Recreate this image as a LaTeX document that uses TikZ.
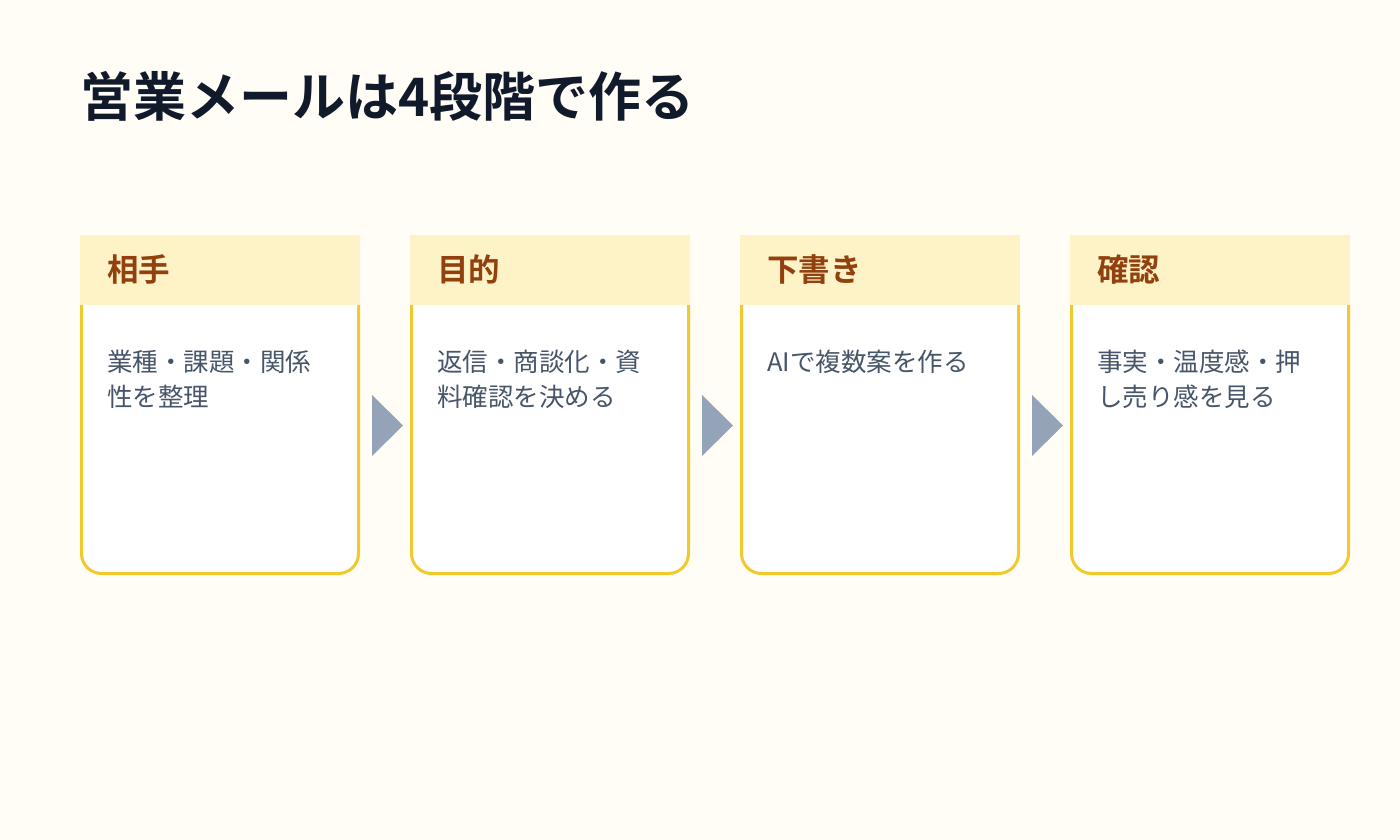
\documentclass[tikz,border=0pt]{standalone}
\usepackage{fontspec}
\setmainfont{Noto Sans CJK JP}[BoldFont={Noto Sans CJK JP Bold}]
\definecolor{bg}{HTML}{FFFDF6}
\definecolor{hdrfill}{HTML}{FEF3C7}
\definecolor{cardborder}{HTML}{F2C92C}
\definecolor{titlecol}{HTML}{111A2B}
\definecolor{hdrtext}{HTML}{92400E}
\definecolor{bodytext}{HTML}{475569}
\definecolor{arrowcol}{HTML}{94A3B8}
\tikzset{
  hdrbox/.style={rectangle, fill=hdrfill, draw=none, minimum width=280pt, minimum height=70pt, inner sep=0pt, anchor=north west},
  hdrlabel/.style={anchor=base west, inner sep=0pt, text=hdrtext, font=\fontsize{31.5}{36}\selectfont\bfseries},
  bodylabel/.style={anchor=base west, inner sep=0pt, text=bodytext, font=\fontsize{25.5}{35}\selectfont},
  cardline/.style={draw=cardborder, line width=3pt},
  stepArrow/.style={fill=arrowcol, draw=none}
}
\begin{document}
\begin{tikzpicture}[x=1pt,y=-1pt]
\fill[bg] (0,0) rectangle (1400,840);
\useasboundingbox (0,0) rectangle (1400,840);
\node[anchor=base west, inner sep=0pt, text=titlecol, font=\fontsize{53}{60}\selectfont\bfseries] (title) at (80,116.5) {営業メールは4段階で作る};
\foreach \i/\x/\h/\la/\lb in {1/80/相手/業種・課題・関係/性を整理,
                         2/410/目的/返信・商談化・資/料確認を決める,
                         3/740/下書き/AIで複数案を作る/{},
                         4/1070/確認/事実・温度感・押/し売り感を見る} {
  \fill[white] (\x,305) [rounded corners=20pt] -- (\x,575) -- (\x+280,575) [sharp corners] -- (\x+280,305) -- cycle;
  \draw[cardline] (\x+1.5,305) [rounded corners=20pt] -- (\x+1.5,573.5) -- (\x+278.5,573.5) [sharp corners] -- (\x+278.5,305);
  \node[hdrbox] (hdr\i) at (\x,235) {};
  \node[hdrlabel] (hdrtxt\i) at (\x+27,281.5) {\h};
  \node[bodylabel] (bodya\i) at (\x+27,371.5) {\la};
  \node[bodylabel] (bodyb\i) at (\x+27,406.5) {\lb};
}
\foreach \x in {372,702,1032} {
  \fill[stepArrow] (\x,395) -- (\x+31,425.5) -- (\x,456) -- cycle;
}
\end{tikzpicture}
\end{document}
